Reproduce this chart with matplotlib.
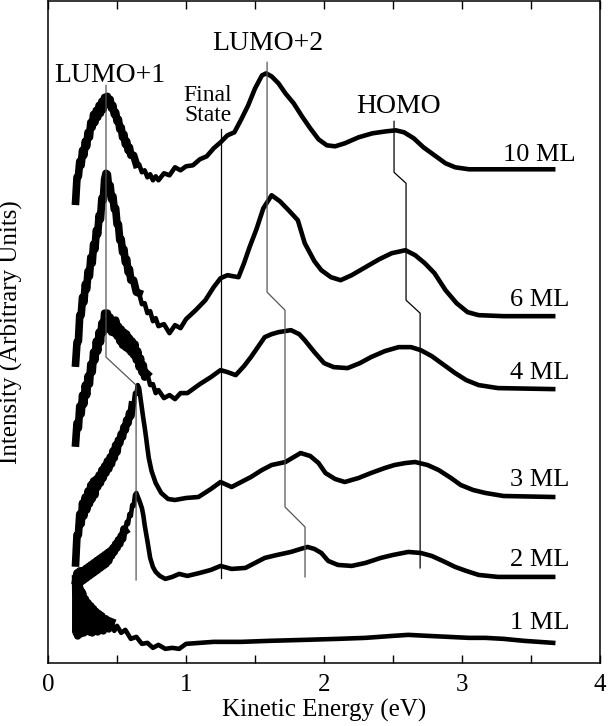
import numpy as np
import matplotlib.pyplot as plt

plt.rcParams['font.family'] = ['Liberation Serif', 'DejaVu Serif']

# kinetic energy (eV) and intensity (arbitrary units)
x10 = [0.20, 0.21, 0.22, 0.23, 0.24, 0.25, 0.26, 0.27, 0.28, 0.29, 0.30, 0.31, 0.32, 0.33, 0.34,
       0.35, 0.36, 0.37, 0.38, 0.39, 0.40, 0.41, 0.42, 0.43, 0.44, 0.45, 0.46, 0.47, 0.48, 0.49,
       0.50, 0.51, 0.52, 0.53, 0.54, 0.55, 0.56, 0.57, 0.58, 0.59, 0.60, 0.62, 0.64, 0.66, 0.68,
       0.70, 0.72, 0.74, 0.76, 0.78, 0.80, 0.84, 0.88, 0.92, 0.96, 1.00, 1.05, 1.10, 1.15, 1.20,
       1.25, 1.30, 1.35, 1.40, 1.45, 1.50, 1.55, 1.58, 1.62, 1.67, 1.72, 1.78, 1.84, 1.90, 1.96,
       2.02, 2.08, 2.15, 2.25, 2.35, 2.45, 2.52, 2.58, 2.65, 2.72, 2.80, 2.88, 2.95, 3.00, 3.05,
       3.15, 3.30, 3.50, 3.66]
y10 = [462, 486, 487, 502, 498, 513, 508, 522, 517, 531, 526, 541, 536, 549, 541,
       553, 546, 558, 550, 562, 554, 566, 559, 567, 561, 564, 555, 558, 549, 551,
       542, 544, 534, 536, 526, 529, 519, 522, 513, 516, 508, 508, 499, 499, 491,
       493, 486, 489, 483, 487, 483, 490, 488, 496, 493, 497, 498, 504, 507, 515,
       521, 528, 531, 544, 558, 575, 588, 590, 587, 580, 570, 560, 547, 535, 524,
       518, 517, 520, 526, 530, 532, 533, 531, 525, 516, 508, 500, 496, 495, 494,
       494, 494, 494, 494]

x6 = [0.20, 0.21, 0.22, 0.23, 0.24, 0.25, 0.26, 0.27, 0.28, 0.29, 0.30, 0.31, 0.32, 0.33, 0.34,
      0.35, 0.36, 0.37, 0.38, 0.39, 0.40, 0.41, 0.42, 0.43, 0.44, 0.45, 0.46, 0.47, 0.48, 0.49,
      0.50, 0.51, 0.52, 0.53, 0.54, 0.55, 0.56, 0.57, 0.58, 0.59, 0.60, 0.62, 0.64, 0.66, 0.68,
      0.70, 0.72, 0.74, 0.76, 0.78, 0.80, 0.84, 0.88, 0.92, 0.96, 1.00, 1.07, 1.14, 1.20, 1.25,
      1.30, 1.34, 1.38, 1.42, 1.46, 1.51, 1.56, 1.62, 1.68, 1.75, 1.81, 1.86, 1.93, 1.98, 2.05,
      2.12, 2.20, 2.30, 2.40, 2.49, 2.59, 2.66, 2.73, 2.80, 2.88, 2.96, 3.04, 3.12, 3.30, 3.66]
y6 = [300, 321, 322, 348, 348, 366, 361, 379, 374, 392, 387, 406, 400, 419, 414,
      433, 429, 448, 444, 465, 463, 484, 490, 489, 475, 478, 464, 467, 454, 455,
      439, 439, 423, 424, 411, 414, 401, 404, 391, 394, 383, 383, 371, 370, 359,
      360, 350, 352, 342, 345, 337, 339, 330, 338, 335, 344, 353, 363, 376, 385,
      388, 387, 386, 400, 416, 434, 455, 468, 462, 452, 443, 420, 402, 393, 386,
      383, 388, 396, 404, 410, 413, 408, 400, 390, 373, 360, 351, 348, 347, 347]

x4 = [0.20, 0.21, 0.22, 0.23, 0.24, 0.25, 0.26, 0.27, 0.28, 0.29, 0.30, 0.31, 0.32, 0.33, 0.34,
      0.35, 0.36, 0.37, 0.38, 0.39, 0.40, 0.41, 0.42, 0.43, 0.44, 0.45, 0.46, 0.47, 0.48, 0.49,
      0.50, 0.51, 0.52, 0.53, 0.54, 0.55, 0.56, 0.57, 0.58, 0.59, 0.60, 0.61, 0.62, 0.63, 0.64,
      0.65, 0.66, 0.67, 0.68, 0.69, 0.70, 0.72, 0.74, 0.76, 0.78, 0.80, 0.84, 0.88, 0.92, 0.96,
      1.01, 1.10, 1.18, 1.25, 1.30, 1.36, 1.42, 1.47, 1.52, 1.57, 1.62, 1.67, 1.76, 1.82, 1.86,
      1.93, 2.00, 2.07, 2.17, 2.26, 2.34, 2.44, 2.54, 2.63, 2.70, 2.78, 2.86, 2.95, 3.03, 3.12,
      3.26, 3.66]
y4 = [220, 240, 235, 257, 249, 268, 259, 278, 268, 287, 279, 299, 291, 311, 303,
      322, 312, 331, 321, 340, 331, 350, 346, 350, 334, 346, 331, 342, 330, 343,
      327, 337, 322, 334, 318, 331, 316, 329, 314, 325, 311, 322, 308, 319, 303,
      312, 296, 305, 291, 298, 286, 289, 278, 279, 270, 273, 265, 268, 264, 270,
      270, 279, 286, 293, 291, 288, 297, 306, 316, 326, 329, 331, 333, 329, 323,
      311, 300, 296, 295, 300, 306, 312, 316, 316, 313, 307, 299, 290, 283, 278,
      275, 274]

x3 = [0.20, 0.21, 0.22, 0.23, 0.24, 0.25, 0.26, 0.27, 0.28, 0.29, 0.30, 0.31, 0.32, 0.33, 0.34,
      0.35, 0.36, 0.37, 0.38, 0.39, 0.40, 0.41, 0.42, 0.43, 0.44, 0.45, 0.46, 0.47, 0.48, 0.49,
      0.50, 0.51, 0.52, 0.53, 0.54, 0.55, 0.56, 0.57, 0.58, 0.59, 0.60, 0.61, 0.62, 0.63, 0.64,
      0.65, 0.66, 0.67, 0.68, 0.69, 0.70, 0.71, 0.72, 0.73, 0.75, 0.78, 0.82, 0.87, 0.92, 1.00,
      1.09, 1.18, 1.25, 1.33, 1.40, 1.47, 1.55, 1.62, 1.72, 1.83, 1.90, 1.96, 2.01, 2.08, 2.15,
      2.25, 2.34, 2.44, 2.51, 2.59, 2.66, 2.75, 2.83, 2.92, 2.99, 3.08, 3.17, 3.30, 3.66]
y3 = [100, 128, 128, 149, 139, 160, 147, 166, 153, 172, 159, 178, 164, 182, 168,
      184, 176, 188, 180, 193, 185, 197, 190, 202, 194, 206, 199, 212, 205, 218,
      211, 223, 220, 229, 226, 236, 233, 243, 240, 250, 247, 258, 258, 270, 269,
      278, 275, 265, 255, 245, 236, 226, 215, 205, 192, 180, 170, 164, 163, 165,
      166, 174, 181, 176, 181, 186, 193, 198, 201, 210, 207, 200, 190, 184, 181,
      185, 190, 195, 198, 200, 201, 198, 193, 185, 178, 173, 170, 167, 166]

x2 = [0.20, 0.21, 0.22, 0.23, 0.24, 0.25, 0.26, 0.27, 0.28, 0.29, 0.30, 0.31, 0.32, 0.33, 0.34,
      0.35, 0.36, 0.37, 0.38, 0.39, 0.40, 0.41, 0.42, 0.43, 0.44, 0.45, 0.46, 0.47, 0.48, 0.49,
      0.50, 0.51, 0.52, 0.53, 0.54, 0.55, 0.56, 0.57, 0.58, 0.59, 0.60, 0.61, 0.62, 0.63, 0.64,
      0.66, 0.68, 0.69, 0.70, 0.72, 0.74, 0.76, 0.78, 0.81, 0.85, 0.90, 0.95, 1.01, 1.10, 1.18,
      1.25, 1.33, 1.43, 1.50, 1.57, 1.66, 1.76, 1.83, 1.88, 1.93, 1.98, 2.03, 2.10, 2.20, 2.30,
      2.41, 2.50, 2.61, 2.70, 2.78, 2.86, 2.95, 3.03, 3.12, 3.26, 3.66]
y2 = [82, 90, 80, 92, 81, 92, 83, 94, 85, 96, 87, 98, 89, 100, 91,
      102, 93, 104, 95, 106, 97, 108, 99, 110, 102, 112, 107, 115, 111, 119,
      115, 123, 119, 127, 124, 134, 132, 141, 139, 149, 147, 158, 157, 168, 170,
      163, 155, 148, 138, 122, 105, 96, 91, 87, 84, 86, 89, 87, 90, 93,
      97, 94, 95, 100, 105, 108, 111, 114, 116, 114, 110, 102, 98, 97, 100,
      105, 108, 111, 110, 107, 102, 96, 92, 88, 86, 86]

x1 = [0.20, 0.205, 0.21, 0.215, 0.22, 0.225, 0.23, 0.235, 0.24, 0.245,
      0.25, 0.26, 0.27, 0.28, 0.29, 0.30, 0.31, 0.32, 0.33, 0.34,
      0.35, 0.36, 0.37, 0.38, 0.39, 0.40, 0.42, 0.44, 0.46, 0.48,
      0.50, 0.53, 0.56, 0.60, 0.64, 0.68, 0.72, 0.76, 0.80, 0.85,
      0.90, 0.95, 1.00, 1.10, 1.20, 1.40, 1.60, 1.86, 2.10, 2.30,
      2.50, 2.61, 2.75, 2.90, 3.05, 3.17, 3.30, 3.45, 3.66]
y1 = [84, 30, 80, 27, 78, 30, 75, 29, 72, 31,
      70, 30, 64, 32, 60, 31, 57, 30, 54, 32,
      51, 31, 49, 33, 47, 32, 44, 34, 41, 32,
      37, 30, 33, 24, 26, 19, 20, 15, 18, 14,
      15, 14, 19, 20, 21, 21, 22, 23, 24, 25,
      27, 28, 27, 26, 25, 25, 24, 22, 20]

names = ['10 ML', '6 ML', '4 ML', '3 ML', '2 ML', '1 ML']
label_y = [508, 363, 290, 183, 103, 40]
# energy below which each trace is a broad noisy band
noisy_below = [0.64, 0.66, 0.72, 0.61, 0.56, 0.46]

# peak guide lines
lumo1_x = [0.42, 0.42, 0.638, 0.638]
lumo1_y = [578, 306, 278, 83]
final_x = [1.254, 1.254]
final_y = [534, 85]
lumo2_x = [1.587, 1.587, 1.717, 1.717, 1.862, 1.862]
lumo2_y = [601, 371, 353, 156, 136, 86]
homo_x = [2.507, 2.507, 2.594, 2.594, 2.696, 2.696]
homo_y = [542, 491, 480, 363, 350, 95]

fig = plt.figure(figsize=(6.08, 7.26), dpi=100)
ax = fig.add_axes([0.079, 0.087, 0.908, 0.911])

spectra = [(x10, y10), (x6, y6), (x4, y4), (x3, y3), (x2, y2), (x1, y1)]
for (xs, ys), xn in zip(spectra, noisy_below):
    xs = np.array(xs)
    ys = np.array(ys)
    ax.plot(xs, ys, color='black', lw=3.3, solid_joinstyle='round')
    m = xs <= xn
    ax.plot(xs[m], ys[m], color='black', lw=5.5, solid_joinstyle='round')
for name, ly in zip(names, label_y):
    ax.text(3.56, ly, name, ha='center', va='center', fontsize=19)

ax.plot(lumo1_x, lumo1_y, color='#555555', lw=0.9)
ax.plot(final_x, final_y, color='black', lw=0.9)
ax.plot(lumo2_x, lumo2_y, color='#555555', lw=0.9)
ax.plot(homo_x, homo_y, color='black', lw=0.9)

ax.text(0.45, 588, 'LUMO+1', ha='center', va='center', fontsize=20)
ax.text(1.594, 620, 'LUMO+2', ha='center', va='center', fontsize=20)
ax.text(1.16, 558, 'Final\nState', ha='center', va='center', fontsize=17, linespacing=0.95)
ax.text(2.536, 557, 'HOMO', ha='center', va='center', fontsize=20)

ax.set_xlim(0, 4)
ax.set_ylim(0, 662)
ax.set_xticks([0, 1, 2, 3, 4])
ax.set_xticks(np.arange(0.5, 4, 0.5), minor=True)
ax.set_yticks([])
ax.tick_params(axis='x', which='both', direction='in', top=True, length=6, width=1,
               labelsize=18, pad=8)
for s in ax.spines.values():
    s.set_linewidth(1.1)
ax.set_xlabel('Kinetic Energy (eV)', fontsize=18, labelpad=2)
ax.set_ylabel('Intensity (Arbitrary Units)', fontsize=18)
ax.yaxis.set_label_coords(-0.045, 0.5)

fig.savefig('out.png', dpi=100)
